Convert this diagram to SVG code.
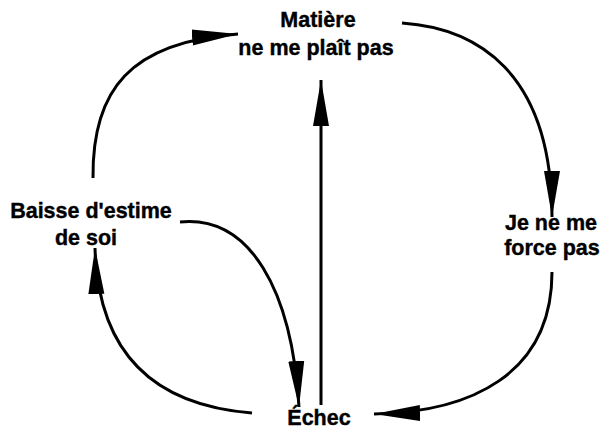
<svg xmlns="http://www.w3.org/2000/svg" width="602" height="429" viewBox="0 0 602 429">
<style>
text{font-family:"Liberation Sans",Arial,sans-serif;font-weight:bold;font-size:21.5px;fill:#000;stroke:#000;stroke-width:0.4;text-anchor:middle}
.c{fill:none;stroke:#000;stroke-width:3}
</style>
<defs>
<marker id="ah" markerUnits="userSpaceOnUse" markerWidth="48" markerHeight="18" refX="46" refY="8" orient="auto" viewBox="0 0 48 16">
<path d="M0,0 L46,8 L0,16 z" fill="#000"/>
</marker>
</defs>
<rect width="602" height="429" fill="#fff"/>
<g id="connectors">
<path class="c" d="M93,178 C92,90 130,42 238,34" marker-end="url(#ah)"/>
<path class="c" d="M402,23 C475,28 552,70 552,217" marker-end="url(#ah)"/>
<path class="c" d="M552,272 C552,375 470,412 374,414" marker-end="url(#ah)"/>
<path class="c" d="M252,413 C150,405 98,350 95,248" marker-end="url(#ah)"/>
<path class="c" d="M180,222 C250,215 292,290 299,407" marker-end="url(#ah)"/>
<path class="c" d="M321,405 L321,80" marker-end="url(#ah)"/>
</g>
<g id="matiere"><text x="318" y="27">Matière</text><text x="316" y="55">ne me plaît pas</text></g>
<g id="baisse"><text x="91" y="218">Baisse d'estime</text><text x="86" y="245">de soi</text></g>
<g id="jenemeforce"><text x="551" y="230">Je ne me</text><text x="552" y="255">force pas</text></g>
<g id="echec"><text x="319" y="425">Échec</text></g>
</svg>
